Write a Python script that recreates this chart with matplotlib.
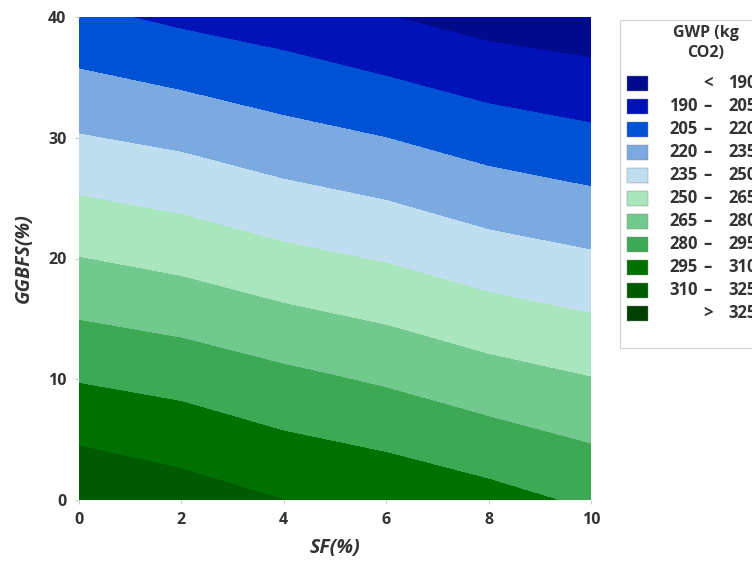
import matplotlib.pyplot as plt
from matplotlib.patches import Rectangle

# values (GWP at grid nodes)
sf = [0, 2, 4, 6, 8, 10]
ggbfs = [0, 10, 20, 30, 40]
gwp = [
    [323.0, 317.0, 310.0, 306.0, 300.0, 292.5],
    [294.0, 290.0, 283.7, 278.0, 271.0, 265.5],
    [265.3, 260.6, 253.9, 248.9, 241.8, 237.0],
    [235.9, 231.5, 225.1, 220.0, 213.2, 208.4],
    [208.0, 202.0, 197.2, 190.5, 184.0, 180.6],
]
levels = [0, 190, 205, 220, 235, 250, 265, 280, 295, 310, 325, 1000]
band_labels = [("", "<", "190"), ("190", "–", "205"), ("205", "–", "220"),
               ("220", "–", "235"), ("235", "–", "250"), ("250", "–", "265"),
               ("265", "–", "280"), ("280", "–", "295"), ("295", "–", "310"),
               ("310", "–", "325"), ("", ">", "325")]
colors = ["#000a8c", "#0012b8", "#0052d4", "#7ba9e0", "#bfdff1", "#a9e5bd",
          "#72c98e", "#3ea955", "#007000", "#005a00", "#004000"]

plt.rcParams['font.family'] = ['Open Sans', 'DejaVu Sans']
txt = "#333333"
wt = "bold"

fig = plt.figure(figsize=(7.52, 5.62), dpi=100)
ax = fig.add_axes([79/752, 1 - 500/562, 512/752, 483/562])
ax.contourf(sf, ggbfs, gwp, levels=levels, colors=colors)
ax.set_xlim(0, 10)
ax.set_ylim(0, 40)
ax.set_xticks([0, 2, 4, 6, 8, 10])
ax.set_yticks([0, 10, 20, 30, 40])
for s in ax.spines.values():
    s.set_visible(False)
ax.tick_params(length=3, color="#cccccc", labelsize=11.5, labelcolor=txt, pad=6)
for lab in ax.get_xticklabels() + ax.get_yticklabels():
    lab.set_fontweight(wt)
ax.set_xlabel("SF(%)", fontsize=14, style="italic", fontweight=wt, color=txt, labelpad=7)
ax.set_ylabel("GGBFS(%)", fontsize=14, style="italic", fontweight=wt, color=txt, labelpad=10)

# legend box, drawn by hand (it runs off the right edge as in the original)
W, H = 752, 562
fig.patches.append(Rectangle((620/W, 1 - 348/H), 140/W, 328/H, transform=fig.transFigure,
                             facecolor="white", edgecolor="#d0d0d0", lw=0.8))
fig.text(706/W, 1 - 33/H, "GWP (kg", ha="center", va="center", fontsize=11.5,
         fontweight=wt, color=txt)
fig.text(706/W, 1 - 53/H, "CO2)", ha="center", va="center", fontsize=11.5,
         fontweight=wt, color=txt)
for i, (lo, sep, hi) in enumerate(band_labels):
    yc = 1 - (83 + 23 * i) / H
    fig.patches.append(Rectangle((627/W, yc - 7.5/H), 21/W, 15/H, transform=fig.transFigure,
                                 facecolor=colors[i], edgecolor="#888888", lw=0.3))
    fig.text(698/W, yc, lo, ha="right", va="center", fontsize=12, fontweight=wt, color=txt)
    fig.text(708/W, yc, sep, ha="center", va="center", fontsize=12, fontweight=wt, color=txt)
    fig.text(757/W, yc, hi, ha="right", va="center", fontsize=12, fontweight=wt, color=txt)

fig.savefig("out.png", dpi=100)
